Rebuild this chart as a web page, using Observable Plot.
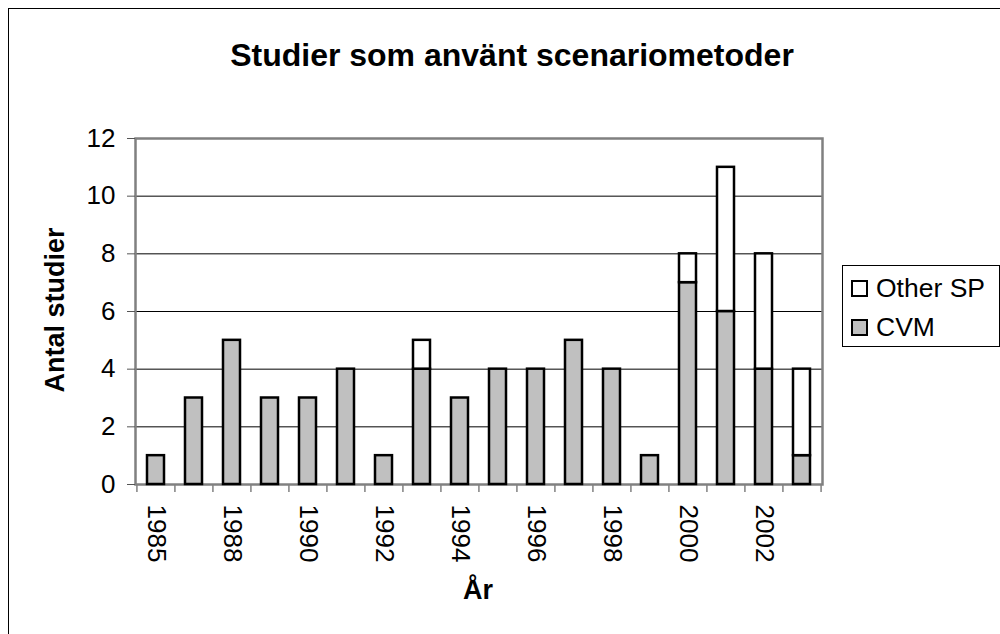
<!DOCTYPE html>
<html>
<head>
<meta charset="utf-8">
<script src="https://cdn.jsdelivr.net/npm/d3@7"></script>
<script src="https://cdn.jsdelivr.net/npm/@observablehq/plot@0.6"></script>
<style>
  html, body { margin: 0; padding: 0; background: #fff; }
  #wrap { position: relative; width: 1000px; height: 634px; overflow: hidden; font-family: "Liberation Sans", Arial, sans-serif; }
  #border { position: absolute; left: 8px; top: 8px; width: 1100px; height: 700px; border: 1px solid #000; box-sizing: border-box; }
  #title { position: absolute; left: 0; width: 1024px; top: 36px; text-align: center; font-weight: bold; font-size: 32px; line-height: 38px; }
  #ylab { position: absolute; left: 55px; top: 310px; transform: translate(-50%, -50%) rotate(-90deg); font-weight: bold; font-size: 27px; white-space: nowrap; line-height: 30px; }
  #xlab { position: absolute; left: 478px; top: 590px; transform: translate(-50%, -50%); font-weight: bold; font-size: 27px; line-height: 30px; }
  #legend { position: absolute; left: 842px; top: 265px; width: 158px; height: 82px; border: 1px solid #000; box-sizing: border-box; background: #fff; }
  .item { position: absolute; left: 8px; height: 30px; display: flex; align-items: center; font-size: 26.5px; }
  .sw { width: 13px; height: 13px; border: 2px solid #000; margin-right: 8px; }
  #chart { position: absolute; left: 0; top: 0; }
</style>
</head>
<body>
<div id="wrap">
  <div id="chart"></div>
  <div id="border"></div>
  <div id="title">Studier som använt scenariometoder</div>
  <div id="ylab">Antal studier</div>
  <div id="xlab">År</div>
  <div id="legend"></div>
</div>
<script>
const years = ["1985","1987","1988","1989","1990","1991","1992","1993","1994","1995","1996","1997","1998","1999","2000","2001","2002","2003"];
const cvm   = [1,3,5,3,3,4,1,4,3,4,4,5,4,1,7,6,4,1];
const other = [0,0,0,0,0,0,0,1,0,0,0,0,0,0,1,5,4,3];
const labeledYears = ["1985","1988","1990","1992","1994","1996","1998","2000","2002"];
const yTicks = [0,2,4,6,8,10,12];
const seriesNames = ["CVM","Other SP"];
const seriesColors = ["#c0c0c0","#ffffff"];

const rows = [];
years.forEach((y, i) => {
  rows.push({year: y, series: "CVM", value: cvm[i]});
  rows.push({year: y, series: "Other SP", value: other[i]});
});

const W = 1000, H = 634, mL = 135, mR = 178, mT = 138, mB = 150;
const step = (W - mL - mR) / years.length;

const plot = Plot.plot({
  width: W, height: H,
  marginLeft: mL, marginRight: mR, marginTop: mT, marginBottom: mB,
  style: {fontFamily: '"Liberation Sans", Arial, sans-serif', fontSize: "26px", color: "#000", background: "transparent"},
  x: {domain: years, paddingInner: 0.55, paddingOuter: 0.275, align: 0.5},
  y: {domain: [0, 12]},
  color: {domain: seriesNames, range: seriesColors},
  marks: [
    Plot.gridY(yTicks, {stroke: "#000", strokeOpacity: 1, strokeWidth: 1}),
    Plot.frame({stroke: "#808080", strokeWidth: 2.5}),
    Plot.barY(rows, Plot.stackY({order: seriesNames}, {x: "year", y: "value", z: "series", fill: "series", stroke: "#000", strokeWidth: 2.5, filter: d => d.value > 0})),
    Plot.axisY({ticks: yTicks, tickSize: 8, tickPadding: 12, label: null, stroke: "#555", fontSize: 26}),
    Plot.axisX({ticks: labeledYears, tickSize: 0, tickPadding: 20, tickRotate: 90, label: null, fontSize: 26}),
    Plot.axisX({ticks: years, tickSize: 8, tickFormat: () => "", dx: -step / 2, label: null, stroke: "#808080", strokeWidth: 1.5}),
    Plot.axisX({ticks: years.slice(-1), tickSize: 8, tickFormat: () => "", dx: step / 2, label: null, stroke: "#808080", strokeWidth: 1.5})
  ]
});
document.getElementById("chart").appendChild(plot);

const legend = document.getElementById("legend");
["Other SP", "CVM"].forEach((name, i) => {
  const it = document.createElement("div");
  it.className = "item";
  it.style.top = (i === 0 ? 7 : 46) + "px";
  const sw = document.createElement("div");
  sw.className = "sw";
  sw.style.background = seriesColors[seriesNames.indexOf(name)];
  const tx = document.createElement("span");
  tx.textContent = name;
  it.appendChild(sw); it.appendChild(tx);
  legend.appendChild(it);
});
</script>
</body>
</html>
